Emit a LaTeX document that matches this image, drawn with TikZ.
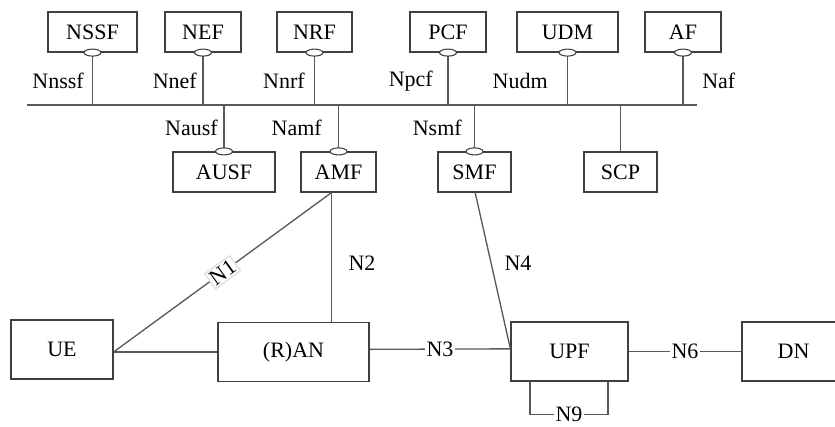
\documentclass[tikz,border=0pt]{standalone}
\usepackage{fontspec}
\setmainfont{Liberation Serif}
\usetikzlibrary{shapes.geometric}

\begin{document}
\begin{tikzpicture}[
  x=0.75pt, y=-0.75pt,
  every node/.style={font=\fontsize{16.5}{18}\selectfont, inner sep=0pt},
  nf/.style={draw=black!75, line width=0.9pt, fill=white, minimum height=30pt},
  big nf/.style={nf, minimum height=44.25pt},
  port/.style={ellipse, draw=black!75, fill=white, line width=0.8pt,
    minimum width=12.75pt, minimum height=5.25pt},
  link/.style={draw=black!65, line width=1pt},
  lbl/.style={fill=white, inner sep=1pt}
]
\useasboundingbox (0,0) rectangle (835,426);

% service bus
\coordinate (busL) at (27,105);
\coordinate (busR) at (697,105);
\draw[link] (busL) -- (busR);

% top row
\node[nf, minimum width=66.75pt] (nssf) at (92.5,32) {NSSF};
\node[nf, minimum width=57pt] (nef) at (203,32) {NEF};
\node[nf, minimum width=56.25pt] (nrf) at (314.5,32) {NRF};
\node[nf, minimum width=57pt] (pcf) at (448,32) {PCF};
\node[nf, minimum width=75.75pt] (udm) at (567.5,32) {UDM};
\node[nf, minimum width=57pt] (af) at (683,32) {AF};

\foreach \n in {nssf,nef,nrf,pcf,udm,af}{
  \draw[link] (\n.south) -- (\n.south |- busL);
  \node[port] (\n p) at (\n.south) {};
}

\node[anchor=east] (lnssf) at (84,81) {Nnssf};
\node[anchor=east] (lnef) at (197,81) {Nnef};
\node[anchor=east] (lnrf) at (305,81) {Nnrf};
\node[anchor=east] (lpcf) at (433,81) {Npcf};
\node[anchor=east] (ludm) at (548,81) {Nudm};
\node[anchor=west] (laf) at (702,81) {Naf};

% second row
\node[nf, minimum width=76.5pt] (ausf) at (224,172) {AUSF};
\node[nf, minimum width=56.25pt] (amf) at (338.5,172) {AMF};
\node[nf, minimum width=54.75pt] (smf) at (474.5,172) {SMF};
\node[nf, minimum width=54.75pt] (scp) at (620.5,172) {SCP};

\foreach \n in {ausf,amf,smf}{
  \draw[link] (\n.north) -- (\n.north |- busL);
  \node[port] (\n p) at (\n.north) {};
}
\draw[link] (scp.north) -- (scp.north |- busL);

\node[anchor=east] (lausf) at (218,128) {Nausf};
\node[anchor=east] (lamf) at (322,128) {Namf};
\node[anchor=east] (lsmf) at (462,128) {Nsmf};

% user plane
\node[big nf, minimum width=76.5pt] (ue) at (62,349.5) {UE};
\node[big nf, minimum width=113.25pt] (ran) at (293.5,352) {(R)AN};
\node[big nf, minimum width=87.75pt] (upf) at (569.5,351.5) {UPF};
\node[big nf, minimum width=77.25pt] (dn) at (793.5,351.5) {DN};

\coordinate (amfb) at ([xshift=-5.25pt]amf.south);
\draw[link] (ran.west -| ue.east) -- node[lbl, sloped, draw=black!12, inner sep=1.5pt] {N1} (amfb);
\draw[link] (ran.west -| ue.east) -- (ran.west);
\draw[link] (amfb) -- (amfb |- ran.north);
\node (ln2) at (362,263) {N2};
\draw[link] ([yshift=2pt]ran.east) -- node[lbl, pos=0.5] {N3} ([yshift=2pt]upf.west);
\draw[link] ([xshift=0.5pt]smf.south) -- ([yshift=2pt]upf.west);
\node (ln4) at (518,263) {N4};
\draw[link] (upf.east) -- node[lbl] {N6} (dn.west);
\draw[link] ([xshift=-29.6pt]upf.south) |- node[lbl, pos=0.75] {N9}
  ([xshift=28.9pt, yshift=-24.75pt]upf.south) -- ([xshift=28.9pt]upf.south);

\end{tikzpicture}
\end{document}
